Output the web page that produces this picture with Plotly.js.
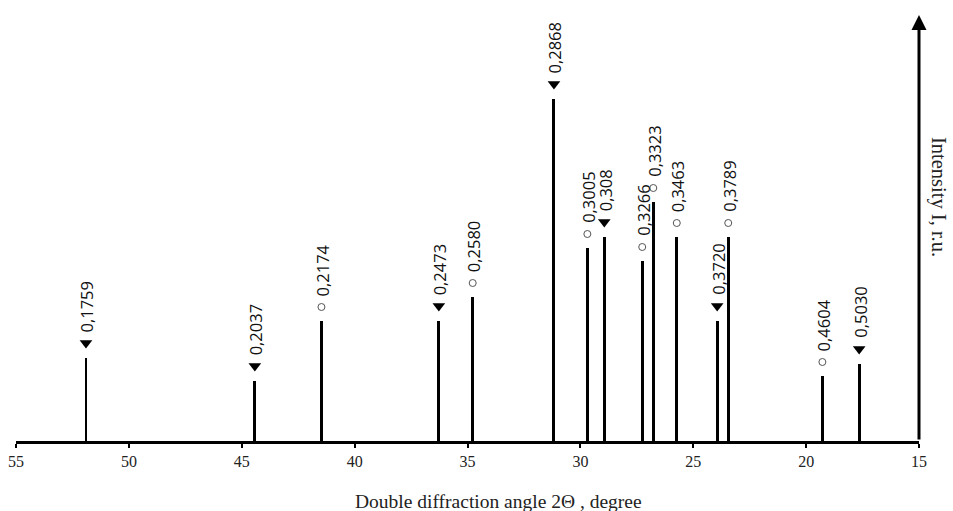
<!DOCTYPE html>
<html>
<head>
<meta charset="utf-8">
<script src="https://cdn.plot.ly/plotly-3.0.1.min.js"></script>
<style>html,body{margin:0;padding:0;background:#fff;}#chart{width:953px;height:511px;}</style>
</head>
<body>
<div id="chart"></div>
<script>
// Diffraction peaks: angle 2Θ (degree), relative intensity (r.u.), d-spacing labels, phase marker
const angles = [51.9, 44.42, 41.47, 36.27, 34.77, 31.17, 29.69, 28.94, 27.26, 26.77, 25.73, 23.94, 23.45, 19.28, 17.65];
const intensity = [83, 60, 120, 120, 144, 342, 193, 204, 180, 239, 204, 120, 204, 65, 77];
const dLabels = ['0,1759','0,2037','0,2174','0,2473','0,2580','0,2868','0,3005','0,308','0,3266','0,3323','0,3463','0,3720','0,3789','0,4604','0,5030'];
const phase = ['tri','tri','circ','tri','circ','tri','circ','tri','circ','circ','circ','tri','circ','circ','tri'];
const xTicks = [55, 50, 45, 40, 35, 30, 25, 20, 15];

const markerY = intensity.map((v, i) => v + (phase[i] === 'tri' ? 15 : 14));

const triX = [], triY = [], cirX = [], cirY = [];
angles.forEach((a, i) => {
  if (phase[i] === 'tri') { triX.push(a); triY.push(markerY[i]); }
  else { cirX.push(a); cirY.push(markerY[i]); }
});

const traces = [
  {type: 'bar', x: angles, y: intensity, width: 0.13, marker: {color: '#000', line: {width: 0}}, hoverinfo: 'x+y'},
  {type: 'scatter', mode: 'markers', x: triX, y: triY, marker: {symbol: 'triangle-down', size: 11, color: '#000'}, cliponaxis: false},
  {type: 'scatter', mode: 'markers', x: cirX, y: cirY, marker: {symbol: 'circle-open', size: 7, color: '#555', line: {width: 1, color: '#555'}}, cliponaxis: false}
];

const annotations = angles.map((a, i) => ({
  x: a, y: markerY[i], xref: 'x', yref: 'y',
  text: dLabels[i], showarrow: false, textangle: -90,
  xanchor: 'center', yanchor: 'bottom', yshift: 9, xshift: 1,
  font: {family: 'Open Sans, sans-serif', size: 16.5, color: '#111'}
}));

// y axis with arrow
annotations.push({
  x: 15, y: 426, ax: 15, ay: 0, xref: 'x', yref: 'y', axref: 'x', ayref: 'y',
  showarrow: true, arrowhead: 2, arrowsize: 1, arrowwidth: 3, arrowcolor: '#000', text: ''
});
annotations.push({
  x: 1.021, y: 0.573, xref: 'paper', yref: 'paper', xanchor: 'center', yanchor: 'middle',
  text: 'Intensity I, r.u.', showarrow: false, textangle: 90,
  font: {family: 'Liberation Serif, Times New Roman, serif', size: 20.5, color: '#222'}
});
annotations.push({
  x: 0.534, y: -0.141, xref: 'paper', yref: 'paper', xanchor: 'center', yanchor: 'middle',
  text: 'Double diffraction angle 2Θ , degree', showarrow: false,
  font: {family: 'Liberation Serif, Times New Roman, serif', size: 19.5, color: '#222'}
});

const layout = {
  width: 953, height: 511,
  margin: {l: 16, r: 34, t: 15, b: 70},
  paper_bgcolor: '#fff', plot_bgcolor: '#fff',
  showlegend: false,
  xaxis: {
    range: [55, 15], tickvals: xTicks, ticktext: xTicks.map(String),
    showgrid: false, zeroline: false, showline: true, linecolor: '#000', linewidth: 3,
    ticks: 'outside', ticklen: 4, tickwidth: 2, tickcolor: '#000',
    tickfont: {family: 'Liberation Serif, Times New Roman, serif', size: 16, color: '#222'}
  },
  yaxis: {range: [0, 426], visible: false, showgrid: false, zeroline: false},
  annotations: annotations,
  bargap: 0
};

Plotly.newPlot('chart', traces, layout, {displayModeBar: false, staticPlot: true});
</script>
</body>
</html>
